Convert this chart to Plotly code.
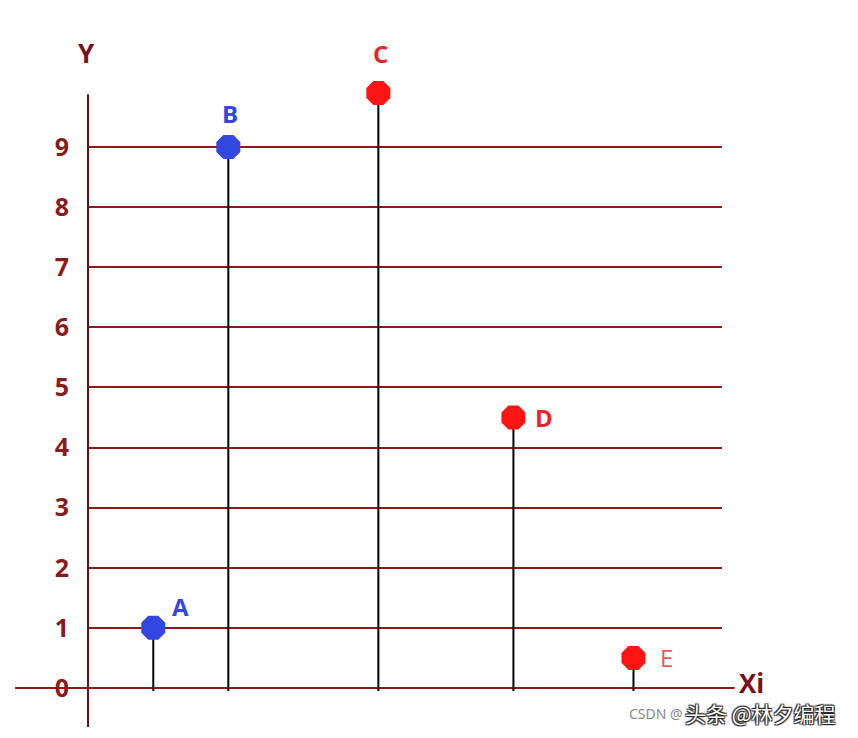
import plotly.graph_objects as go

# Data
names = ["A", "B", "C", "D", "E"]
xi = [1.0, 2.0, 4.0, 5.8, 7.4]
yv = [1.0, 9.0, 9.9, 4.5, 0.5]
point_colors = ["#3346E0", "#3346E0", "#FF1414", "#FF1414", "#FF1414"]
label_colors = ["#3346E0", "#3346E0", "#E8262A", "#E8262A", "#E55A5A"]
label_weights = ["bold", "bold", "bold", "bold", "normal"]
y_ticks = [0, 1, 2, 3, 4, 5, 6, 7, 8, 9]

DARK_RED = "#8B1A1A"

fig = go.Figure()

# stems
for x, y in zip(xi, yv):
    fig.add_trace(go.Scatter(x=[x, x], y=[-0.05, y], mode="lines",
                             line=dict(color="black", width=2),
                             hoverinfo="skip", showlegend=False, cliponaxis=False))

# markers
fig.add_trace(go.Scatter(x=xi, y=yv, mode="markers",
                         marker=dict(color=point_colors, size=26, symbol="octagon",
                                     line=dict(width=0)),
                         showlegend=False, cliponaxis=False))

# point labels
offsets = {"A": (27, -21), "B": (2, -34), "C": (2, -40), "D": (31, 0), "E": (33, 0)}
for n, x, y, c, w in zip(names, xi, yv, label_colors, label_weights):
    dx, dy = offsets[n]
    fig.add_annotation(x=x, y=y, text=n, showarrow=False, xshift=dx, yshift=-dy,
                       xanchor="center", yanchor="middle",
                       font=dict(family="Open Sans, Arial", size=24, color=c, weight=w))

# extended zero line
fig.add_shape(type="line", xref="paper", yref="y", x0=-0.115, x1=1.02, y0=0, y1=0,
              line=dict(color=DARK_RED, width=2), layer="below")

# axis titles
fig.add_annotation(xref="paper", yref="paper", x=-0.003, y=1.043, text="Y", showarrow=False,
                   xanchor="center", yanchor="middle",
                   font=dict(family="Open Sans, Arial", size=26, color="#7A1020", weight="bold"))
fig.add_annotation(xref="paper", yref="y", x=1.047, y=0.09, text="Xi", showarrow=False,
                   xanchor="center", yanchor="middle",
                   font=dict(family="Open Sans, Arial", size=26, color="#7A1020", weight="bold"))

# watermark
fig.add_annotation(xref="paper", yref="paper", x=0.85, y=0.021, text="CSDN @", showarrow=False,
                   xanchor="left", yanchor="middle",
                   font=dict(family="Noto Sans", size=14, color="#8A8A8A"))
fig.add_annotation(xref="paper", yref="paper", x=1.183, y=0.021, text="头条 @林夕编程", showarrow=False,
                   xanchor="right", yanchor="middle",
                   font=dict(family="Noto Sans CJK SC", size=21, color="white",
                             shadow="1px 1px 1px #222, -1px -1px 1px #222, 1px -1px 1px #222, -1px 1px 1px #222"))

fig.update_layout(
    width=850, height=730,
    margin=dict(l=80, r=136, t=73, b=11, autoexpand=False),
    paper_bgcolor="white", plot_bgcolor="white",
    xaxis=dict(range=[0.13, 8.58], showgrid=False, zeroline=False, showticklabels=False,
               showline=False, fixedrange=True),
    yaxis=dict(range=[-0.65, 10.1], tickvals=y_ticks, ticktext=[str(t) for t in y_ticks],
               showgrid=True, gridcolor=DARK_RED, gridwidth=1.5, zeroline=False,
               showline=False,
               ticks="", ticklabelstandoff=18,
               tickfont=dict(family="Open Sans, Arial", size=25, color=DARK_RED, weight="bold")),
)

# y axis line
fig.add_shape(type="line", xref="paper", yref="y", x0=0, x1=0, y0=-0.65, y1=9.88,
              line=dict(color="#6B1010", width=2))

fig.write_html("out.html")
